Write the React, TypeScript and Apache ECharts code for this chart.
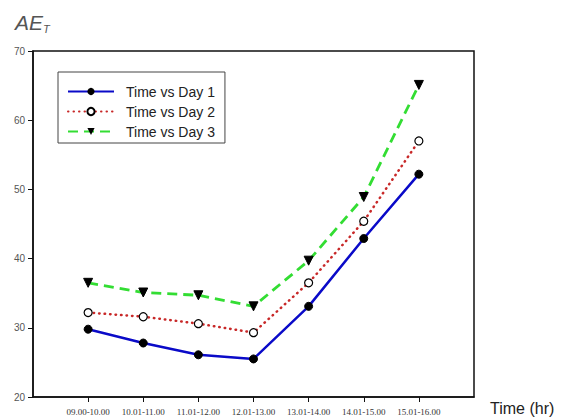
import React, { useEffect, useRef } from "react";
import * as echarts from "echarts";

const categories = ["09.00-10.00", "10.01-11.00", "11.01-12.00", "12.01-13.00", "13.01-14.00", "14.01-15.00", "15.01-16.00"];
const day1 = [29.8, 27.8, 26.1, 25.5, 33.1, 42.9, 52.2];
const day2 = [32.2, 31.6, 30.6, 29.3, 36.5, 45.4, 57.0];
const day3 = [36.5, 35.1, 34.7, 33.1, 39.7, 48.9, 65.1];
const yTicks = [20, 30, 40, 50, 60, 70];

export default function App() {
  const ref = useRef<HTMLDivElement>(null);
  useEffect(() => {
    const chart = echarts.init(ref.current!, null, { renderer: "svg" });
    const axisData = ["", ...categories, ""];
    const toData = (arr: number[]) => arr.map((v, i) => [i + 1, v]);
    chart.setOption({
      animation: false,
      backgroundColor: "#ffffff",
      grid: { left: 33, right: 93, top: 51, bottom: 21, show: true, borderColor: "#111", borderWidth: 1.5, backgroundColor: "transparent" },
      xAxis: {
        type: "category",
        data: axisData,
        boundaryGap: false,
        axisLine: { lineStyle: { color: "#111", width: 1.5 } },
        axisTick: { show: true, length: 5, interval: (i: number) => i > 0 && i < axisData.length - 1, lineStyle: { color: "#111" } },
        axisLabel: { interval: 0, fontSize: 9, color: "#333", margin: 10, fontFamily: "Liberation Serif, Times New Roman" },
        splitLine: { show: false },
      },
      yAxis: {
        type: "value",
        min: yTicks[0],
        max: yTicks[yTicks.length - 1],
        interval: 10,
        axisLine: { show: true, lineStyle: { color: "#111", width: 1.5 } },
        axisTick: { show: true, length: 5, lineStyle: { color: "#111" } },
        axisLabel: { fontSize: 10, color: "#555", margin: 8, fontFamily: "Liberation Sans, Arial" },
        splitLine: { show: false },
      },
      legend: {
        orient: "vertical",
        left: 58,
        top: 72,
        padding: [11, 10, 3, 9],
        itemGap: 3,
        itemWidth: 46,
        itemHeight: 9,
        borderColor: "#444",
        borderWidth: 1,
        textStyle: { fontSize: 14, lineHeight: 17, color: "#222", fontFamily: "Liberation Sans, Arial", padding: [0, 0, 0, 7] },
        data: ["Time vs Day 1", "Time vs Day 2", "Time vs Day 3"],
      },
      series: [
        {
          name: "Time vs Day 1",
          type: "line",
          data: toData(day1),
          symbol: "circle",
          symbolSize: 8,
          itemStyle: { color: "#000", borderColor: "#000" },
          lineStyle: { color: "#0a0ac8", width: 2.5, type: "solid" },
        },
        {
          name: "Time vs Day 2",
          type: "line",
          data: toData(day2),
          symbol: "circle",
          symbolSize: 8,
          itemStyle: { color: "#fff", borderColor: "#000", borderWidth: 1.2 },
          lineStyle: { color: "#c82828", width: 2.5, type: [0.5, 5], cap: "round" },
        },
        {
          name: "Time vs Day 3",
          type: "line",
          data: toData(day3),
          symbol: "triangle",
          symbolRotate: 180,
          symbolSize: 9,
          itemStyle: { color: "#000", borderColor: "#000" },
          lineStyle: { color: "#33dd33", width: 2.8, type: [10, 6] },
        },
      ],
      graphic: [
        {
          type: "text",
          left: 15,
          top: 12,
          style: {
            text: "{a|AE}{b|T}",
            rich: {
              a: { fontSize: 21, fontStyle: "italic", fill: "#555", fontFamily: "Liberation Sans, Arial" },
              b: { fontSize: 11, fontStyle: "italic", fill: "#555", fontFamily: "Liberation Sans, Arial", padding: [12, 0, 0, 0] },
            },
          },
        },
        {
          type: "text",
          left: 490,
          top: 400,
          style: { text: "Time (hr)", fontSize: 16, fill: "#222", fontFamily: "Liberation Sans, Arial" },
        },
      ],
    });
    return () => chart.dispose();
  }, []);
  return <div ref={ref} style={{ position: "fixed", left: 0, top: 0, width: 567, height: 418 }} />;
}
